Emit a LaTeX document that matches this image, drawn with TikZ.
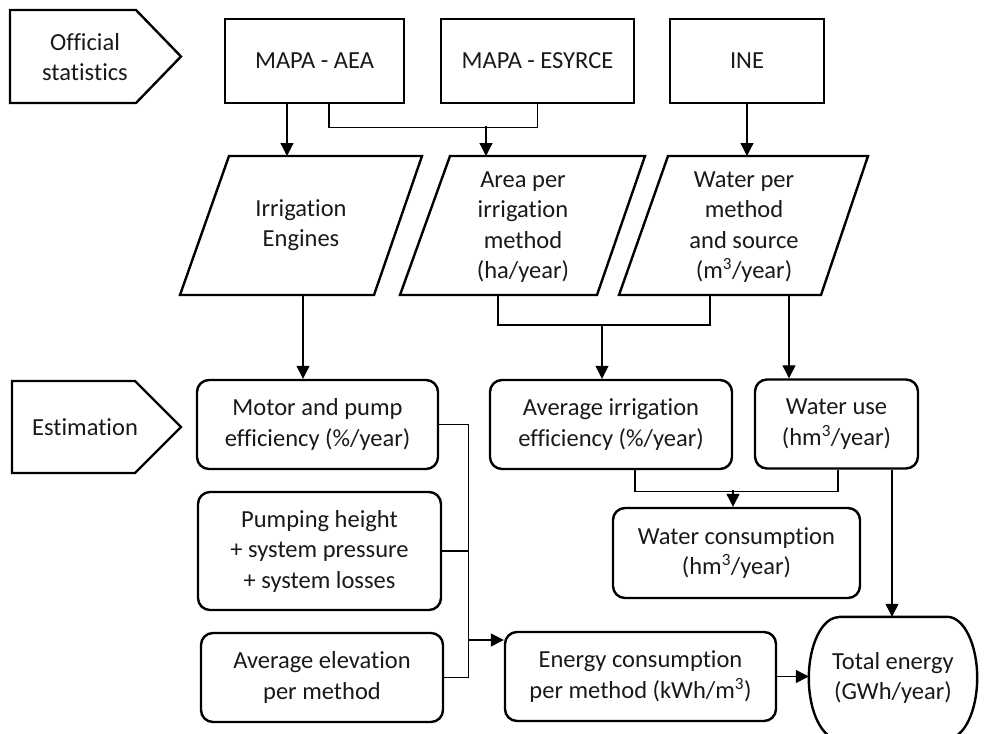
\documentclass[tikz,border=0pt]{standalone}
\usepackage{fontspec}
\setmainfont{Carlito}[Ligatures=NoCommon]
\usetikzlibrary{arrows.meta}

\begin{document}
\begin{tikzpicture}[
    x=1pt, y=-1pt,
    font=\fontsize{24.5}{30.5}\selectfont,
    text=black!90,
    outline/.style={line width=2.4pt, line join=miter},
    box/.style={draw, outline, minimum height=89pt, inner sep=0pt, align=center},
    rbox/.style={box, rounded corners=12pt},
    txt/.style={inner sep=0pt, align=center},
    link/.style={line width=1.2pt},
    arr/.style={link, -{Triangle[length=13pt,width=13pt]}}
  ]
  \useasboundingbox (0,0) rectangle (986,734);

  % row labels
  \draw[outline] (10,10) -- (136,10) -- (181,56.5) -- (136,103) -- (10,103) -- cycle;
  \node (official) [txt] at (85,57) {Official\\statistics};
  \draw[outline] (12,381) -- (135,381) -- (181,427) -- (135,473) -- (12,473) -- cycle;
  \node (estimation) [txt] at (85,427) {Estimation};

  % official statistics
  \node (aea) [box, minimum width=179pt, minimum height=84pt] at (314.5,61) {MAPA - AEA};
  \node (esyrce) [box, minimum width=193pt, minimum height=84pt] at (537.5,61) {MAPA - ESYRCE};
  \node (ine) [box, minimum width=154pt, minimum height=84pt] at (747,61) {INE};

  % data sets
  \coordinate (eng-nw) at (229,156); \coordinate (eng-ne) at (422,156);
  \coordinate (eng-sw) at (180,295); \coordinate (eng-se) at (374,295);
  \coordinate (area-nw) at (450,156); \coordinate (area-ne) at (645,156);
  \coordinate (area-sw) at (400,295); \coordinate (area-se) at (597,295);
  \coordinate (wat-nw) at (668,156); \coordinate (wat-ne) at (868,156);
  \coordinate (wat-sw) at (619,295); \coordinate (wat-se) at (821,295);
  \draw[outline] (eng-sw) -- (eng-nw) -- (eng-ne) -- (eng-se) -- cycle;
  \draw[outline] (area-sw) -- (area-nw) -- (area-ne) -- (area-se) -- cycle;
  \draw[outline] (wat-sw) -- (wat-nw) -- (wat-ne) -- (wat-se) -- cycle;
  \node (engines) [txt] at (301,225) {Irrigation\\Engines};
  \node (area) [txt] at (523,227) {Area per\\irrigation\\method\\(ha/year)};
  \node (water) [txt] at (744,227) {Water per\\method\\and source\\(m\textsuperscript{3}/year)};

  % estimation
  \node (motor) [rbox, minimum width=241pt] at (317.5,424.5) {Motor and pump\\efficiency (\%/year)};
  \node (avgeff) [rbox, minimum width=242pt] at (611,424.5) {Average irrigation\\efficiency (\%/year)};
  \node (wateruse) [rbox, minimum width=163pt] at (836.5,424) {Water use\\(hm\textsuperscript{3}/year)};
  \node (watercons) [rbox, minimum width=247pt, minimum height=90pt] at (736.5,553) {Water consumption\\(hm\textsuperscript{3}/year)};
  \node (pumping) [rbox, minimum width=243pt, minimum height=118pt] at (319.5,551) {Pumping height\\+ system pressure\\+ system losses};
  \node (elev) [rbox, minimum width=242pt] at (322,677.5) {Average elevation\\per method};
  \node (energy) [rbox, minimum width=271pt] at (640.5,676.5) {Energy consumption\\per method (kWh/m\textsuperscript{3})};
  \node (total) [txt, minimum width=168pt, minimum height=122pt] at (893,678) {Total energy\\(GWh/year)};
  \draw[outline] ([xshift=30pt]total.north west) -- ([xshift=-30pt]total.north east)
    arc[start angle=90, end angle=-90, x radius=30pt, y radius=61pt]
    -- ([xshift=30pt]total.south west)
    arc[start angle=270, end angle=90, x radius=30pt, y radius=61pt];

  % links from the statistics
  \draw[arr] ([xshift=-27.5pt]aea.south) -- ([xshift=-27.5pt]aea.south |- eng-nw);
  \draw[link] ([xshift=14.5pt]aea.south) -- ++(0,23) coordinate (top-bar) -| (esyrce.south);
  \coordinate (j-area) at (486,126);
  \draw[arr] (j-area) -- (j-area |- area-nw);
  \draw[arr] (ine.south) -- (ine.south |- wat-nw);

  % links from the data sets
  \coordinate (j-eng) at (303,295);
  \draw[arr] (j-eng) -- (j-eng |- motor.north);
  \coordinate (j-area2) at (498,295);
  \coordinate (j-wat) at (710,295);
  \draw[link] (j-area2) -- ++(0,30) coordinate (mid-bar) -| (j-wat);
  \coordinate (j-eff) at (602,325);
  \draw[arr] (j-eff) -- (j-eff |- avgeff.north);
  \coordinate (j-use) at (789,295);
  \draw[arr] (j-use) -- (j-use |- wateruse.north);

  % links between estimates
  \draw[link] ([xshift=24pt]avgeff.south) -- ++(0,21) coordinate (low-bar) -| ([xshift=1.5pt]wateruse.south);
  \coordinate (j-cons) at (733,490);
  \draw[arr] (j-cons) -- (j-cons |- watercons.north);
  \draw[arr] ([xshift=55.5pt]wateruse.south) -- ([xshift=55.5pt]wateruse.south |- total.north);
  \draw[link] (motor.east) -- ++(29,0) coordinate (bus) -- (bus |- elev.east) -- (elev.east);
  \draw[link] (pumping.east) -- (pumping.east -| bus);
  \coordinate (bus-in) at (0,640);
  \draw[arr] (bus |- bus-in) -- (energy.west |- bus-in);
  \draw[arr] (energy.east) -- (energy.east -| total.west);
\end{tikzpicture}
\end{document}
